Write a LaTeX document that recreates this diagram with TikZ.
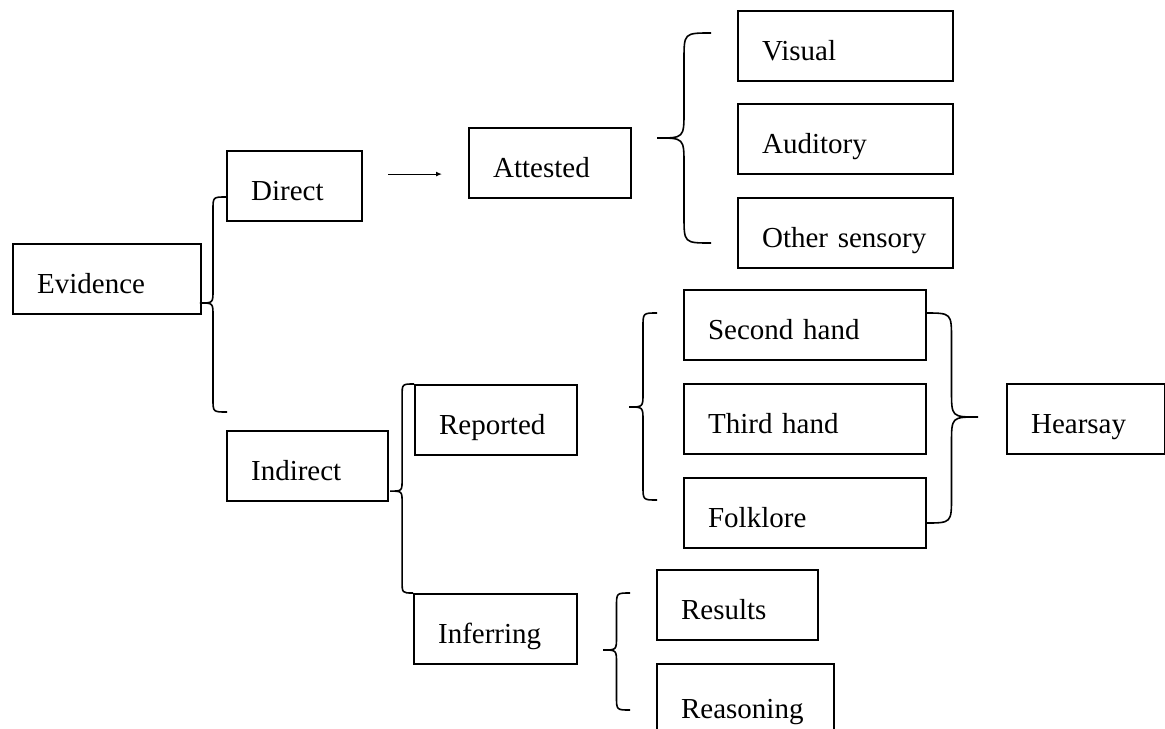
\documentclass[tikz,border=0pt]{standalone}
\usepackage{fontspec}
\setmainfont{Liberation Serif}
\usetikzlibrary{arrows.meta,calc}

\tikzset{
  box/.style={draw, line width=1.1pt, anchor=north west, align=left,
    inner xsep=12pt, inner ysep=0pt, minimum height=35pt,
    text height=14pt, text depth=0pt, font=\fontsize{14.5}{17}\selectfont},
  curl/.style={line width=0.8pt},
  arrow/.style={line width=0.6pt, -{Latex[length=3pt,width=2.5pt]}}
}

\newcommand{\curly}[3]{%
  \draw[curl] let \p1=(#1), \p2=(#2), \p3=(#3),
    \n1={abs(\x1-\x2)/2}, \n2={(\x1+\x2)/2} in
    (\p1) .. controls ({\n2+0pt},\y1) .. ({\n2+0pt},{\y1-\n1})
    -- ({\n2+0pt},{\y2+\n1}) .. controls ({\n2+0pt},\y2) .. (\p2)
    .. controls ({\n2+0pt},\y2) .. ({\n2+0pt},{\y2-\n1})
    -- ({\n2+0pt},{\y3+\n1}) .. controls ({\n2+0pt},\y3) .. (\p3);}

\begin{document}
\begin{tikzpicture}[x=0.5pt, y=-0.5pt]
\useasboundingbox (0,0) rectangle (1165,728);

\node[box, text width=70pt] (evidence) at (12,243) {Evidence};
\node[box, text width=43.5pt] (direct) at (226,150) {Direct};
\node[box, text width=56.5pt] (indirect) at (226,430) {Indirect};
\node[box, text width=57pt] (attested) at (468,127) {Attested};
\node[box, text width=83.5pt] (visual) at (737,10) {Visual};
\node[box, text width=83.5pt] (auditory) at (737,103) {Auditory};
\node[box, text width=83.5pt] (othersense) at (737,197) {Other sensory};
\node[box, text width=57pt] (reported) at (414,384) {Reported};
\node[box, text width=57.5pt] (inferring) at (413,593) {Inferring};
\node[box, text width=97pt] (secondhand) at (683,289) {Second hand};
\node[box, text width=97pt] (thirdhand) at (683,383) {Third hand};
\node[box, text width=97pt] (folklore) at (683,477) {Folklore};
\node[box, text width=55pt] (hearsay) at (1006,383) {Hearsay};
\node[box, text width=56.5pt] (results) at (656,569) {Results};
\node[box, text width=64.5pt, minimum height=40pt] (reasoning) at (656,663) {Reasoning};

\coordinate (evTop) at (226,197);
\coordinate (evTip) at (200,303);
\coordinate (evBot) at (227,412);
\coordinate (atTop) at (711,33);
\coordinate (atTip) at (657,138);
\coordinate (atBot) at (711,243);
\coordinate (rpTop) at (657,313);
\coordinate (rpTip) at (629,407);
\coordinate (rpBot) at (657,500);
\coordinate (hsTop) at (925,313);
\coordinate (hsTip) at (978,417);
\coordinate (hsBot) at (925,523);
\coordinate (ifTop) at (630,593);
\coordinate (ifTip) at (603,650);
\coordinate (ifBot) at (630,710);

\curly{evTop}{evTip}{evBot}
\curly{reported.north west}{$(indirect.east)+(1,25)$}{inferring.north west}
\curly{atTop}{atTip}{atBot}
\curly{rpTop}{rpTip}{rpBot}
\curly{hsTop}{hsTip}{hsBot}
\curly{ifTop}{ifTip}{ifBot}

\draw[arrow] ($(direct.east)+(25,-12)$) -- ($(attested.west)+(-26,11)$);

\end{tikzpicture}
\end{document}
